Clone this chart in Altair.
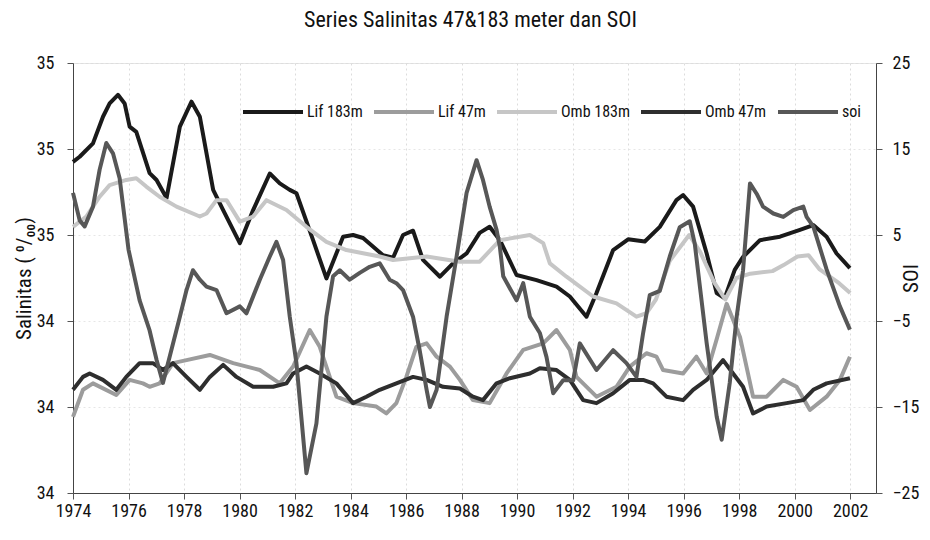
import altair as alt
import pandas as pd

FONT = "Liberation Sans Narrow, Arial Narrow, Roboto Condensed, Liberation Sans, sans-serif"

series_names = ["Lif 183m", "Lif 47m", "Omb 183m", "Omb 47m", "soi"]
series_colors = ["#1a1a1a", "#9c9c9c", "#c6c6c6", "#2e2e2e", "#575757"]

x_ticks = list(range(1974, 2003, 2))
sal_ticks = [34.0, 34.2, 34.4, 34.6, 34.8, 35.0]
soi_ticks = [-25, -15, -5, 5, 15, 25]

lif183_year = [1974.00, 1974.24, 1974.72, 1975.08, 1975.32, 1975.62, 1975.86, 1976.04, 1976.28, 1976.76,
               1977.01, 1977.37, 1977.85, 1978.27, 1978.57, 1979.05, 1979.41, 1980.01, 1980.49, 1981.09,
               1981.45, 1981.81, 1982.05, 1982.65, 1983.13, 1983.73, 1984.09, 1984.45, 1985.17, 1985.53,
               1985.89, 1986.25, 1986.61, 1987.22, 1987.69, 1988.18, 1988.65, 1989.01, 1989.38, 1989.98,
               1990.70, 1991.42, 1991.90, 1992.50, 1992.86, 1993.46, 1994.00, 1994.60, 1995.14, 1995.74,
               1995.98, 1996.34, 1996.83, 1997.19, 1997.48, 1997.84, 1998.14, 1998.75, 1999.47, 2000.19,
               2000.67, 2001.15, 2001.51, 2001.99]
lif183_val = [34.770, 34.782, 34.813, 34.875, 34.906, 34.926, 34.906, 34.852, 34.840, 34.744,
              34.728, 34.686, 34.852, 34.910, 34.875, 34.705, 34.658, 34.581, 34.658, 34.743,
              34.720, 34.705, 34.697, 34.588, 34.499, 34.596, 34.600, 34.593, 34.553, 34.547,
              34.600, 34.610, 34.542, 34.503, 34.534, 34.557, 34.605, 34.619, 34.588, 34.507,
              34.495, 34.480, 34.457, 34.410, 34.465, 34.565, 34.590, 34.585, 34.619, 34.681,
              34.693, 34.666, 34.557, 34.465, 34.453, 34.519, 34.549, 34.588, 34.596, 34.612,
              34.623, 34.596, 34.557, 34.523]

lif47_year = [1974.00, 1974.36, 1974.72, 1975.56, 1976.04, 1976.52, 1976.76, 1977.12, 1977.60, 1978.09,
              1978.93, 1979.77, 1980.73, 1981.45, 1981.93, 1982.53, 1982.89, 1983.25, 1983.49, 1984.09,
              1984.93, 1985.29, 1985.65, 1986.01, 1986.37, 1986.74, 1987.10, 1987.58, 1987.94, 1988.41,
              1989.01, 1989.62, 1990.22, 1990.94, 1991.42, 1991.90, 1992.14, 1992.86, 1993.58, 1994.06,
              1994.66, 1995.02, 1995.26, 1995.98, 1996.46, 1996.83, 1997.20, 1997.55, 1998.03, 1998.50,
              1998.99, 1999.59, 2000.07, 2000.55, 2001.15, 2001.63, 2001.99]
lif47_val = [34.177, 34.240, 34.255, 34.228, 34.263, 34.255, 34.247, 34.255, 34.302, 34.309,
             34.321, 34.302, 34.286, 34.255, 34.294, 34.379, 34.340, 34.270, 34.224, 34.209,
             34.201, 34.185, 34.209, 34.270, 34.340, 34.348, 34.317, 34.294, 34.263, 34.216,
             34.209, 34.278, 34.333, 34.348, 34.379, 34.333, 34.270, 34.224, 34.247, 34.294,
             34.325, 34.317, 34.286, 34.278, 34.317, 34.278, 34.360, 34.440, 34.363, 34.224,
             34.224, 34.263, 34.247, 34.193, 34.224, 34.263, 34.317]

omb183_year = [1974.00, 1974.48, 1974.96, 1975.32, 1975.92, 1976.28, 1976.65, 1977.12, 1977.73, 1978.57,
               1978.81, 1979.17, 1979.53, 1980.01, 1980.49, 1980.97, 1981.69, 1982.41, 1983.13, 1983.85,
               1985.05, 1985.53, 1986.74, 1987.94, 1988.65, 1989.38, 1990.46, 1990.94, 1991.18, 1991.78,
               1992.74, 1993.58, 1994.30, 1994.66, 1995.00, 1995.50, 1996.20, 1996.60, 1997.10, 1997.50,
               1997.90, 1998.40, 1999.20, 1999.60, 2000.10, 2000.50, 2000.90, 2001.60, 2002.00]
omb183_val = [34.619, 34.643, 34.689, 34.716, 34.728, 34.732, 34.712, 34.689, 34.666, 34.643,
              34.650, 34.681, 34.681, 34.631, 34.643, 34.681, 34.658, 34.619, 34.584, 34.565,
              34.550, 34.542, 34.550, 34.538, 34.538, 34.588, 34.600, 34.581, 34.534, 34.503,
              34.457, 34.441, 34.410, 34.418, 34.450, 34.540, 34.600, 34.560, 34.490, 34.450,
              34.500, 34.510, 34.516, 34.530, 34.550, 34.553, 34.520, 34.488, 34.465]

omb47_year = [1974.00, 1974.36, 1974.60, 1975.08, 1975.56, 1975.92, 1976.40, 1976.88, 1977.24, 1977.60,
              1978.09, 1978.57, 1978.93, 1979.41, 1979.89, 1980.49, 1981.21, 1981.69, 1981.93, 1982.41,
              1982.89, 1983.49, 1984.09, 1984.57, 1985.05, 1985.65, 1986.25, 1986.74, 1987.33, 1987.94,
              1988.41, 1988.77, 1989.26, 1989.74, 1990.46, 1990.82, 1991.42, 1991.90, 1992.38, 1992.86,
              1993.46, 1994.06, 1994.54, 1994.90, 1995.38, 1995.98, 1996.34, 1996.83, 1997.42, 1997.78,
              1998.14, 1998.50, 1998.99, 1999.71, 2000.31, 2000.67, 2001.15, 2001.99]
omb47_val = [34.240, 34.270, 34.278, 34.263, 34.240, 34.270, 34.302, 34.302, 34.286, 34.302,
             34.270, 34.240, 34.270, 34.298, 34.270, 34.247, 34.247, 34.255, 34.278, 34.294,
             34.278, 34.255, 34.209, 34.224, 34.240, 34.255, 34.270, 34.263, 34.247, 34.243,
             34.224, 34.216, 34.255, 34.267, 34.278, 34.290, 34.286, 34.263, 34.216, 34.209,
             34.232, 34.263, 34.263, 34.255, 34.224, 34.216, 34.240, 34.263, 34.309, 34.278,
             34.247, 34.185, 34.201, 34.209, 34.216, 34.240, 34.255, 34.267]

soi_year = [1974.00, 1974.24, 1974.42, 1974.72, 1974.96, 1975.20, 1975.44, 1975.68, 1976.00, 1976.40,
            1976.76, 1977.01, 1977.24, 1977.48, 1977.85, 1978.09, 1978.32, 1978.57, 1978.81, 1979.17,
            1979.53, 1980.01, 1980.25, 1980.73, 1981.09, 1981.33, 1981.57, 1981.81, 1982.05, 1982.41,
            1982.77, 1983.13, 1983.37, 1983.61, 1983.97, 1984.33, 1984.69, 1985.05, 1985.41, 1985.65,
            1985.89, 1986.25, 1986.49, 1986.74, 1986.86, 1987.10, 1987.46, 1987.82, 1988.18, 1988.54,
            1988.77, 1989.01, 1989.26, 1989.38, 1989.50, 1989.98, 1990.22, 1990.46, 1990.82, 1991.06,
            1991.30, 1991.66, 1992.02, 1992.26, 1992.86, 1993.46, 1993.94, 1994.30, 1994.54, 1994.78,
            1995.14, 1995.50, 1995.86, 1996.22, 1996.40, 1996.83, 1997.19, 1997.37, 1997.66, 1997.91,
            1998.14, 1998.39, 1998.63, 1998.86, 1999.23, 1999.59, 1999.95, 2000.31, 2000.43, 2000.67,
            2001.15, 2001.63, 2001.99]
soi_val = [9.9, 6.7, 6.0, 8.3, 12.6, 15.7, 14.5, 11.6, 3.3, -2.6,
           -6.1, -9.5, -12.2, -9.2, -4.5, -1.4, 0.9, -0.2, -1.0, -1.4,
           -4.1, -3.3, -4.1, -0.2, 2.5, 4.2, 2.1, -4.5, -9.9, -22.7,
           -16.9, -4.5, 0.2, 0.9, -0.2, 0.6, 1.3, 1.7, -0.2, -0.6,
           -1.4, -4.5, -8.4, -13.0, -15.0, -13.0, -4.5, 2.5, 9.9, 13.7,
           11.4, 8.3, 5.6, 3.6, 0.2, -2.6, -0.6, -4.5, -6.4, -9.2,
           -13.4, -11.9, -11.9, -7.6, -10.7, -8.4, -9.9, -11.5, -6.4, -2.0,
           -1.5, 2.5, 5.9, 6.6, 4.0, -7.6, -16.1, -18.8, -12.2, -4.5,
           0.9, 11.0, 9.8, 8.3, 7.5, 7.1, 7.9, 8.3, 7.1, 6.0,
           1.0, -3.3, -6.0]

rows = []
for name, yrs, vals in [("Lif 183m", lif183_year, lif183_val),
                        ("Lif 47m", lif47_year, lif47_val),
                        ("Omb 183m", omb183_year, omb183_val),
                        ("Omb 47m", omb47_year, omb47_val),
                        ("soi", soi_year, soi_val)]:
    for yr, v in zip(yrs, vals):
        rows.append({"series": name, "year": yr, "value": v})
df = pd.DataFrame(rows)

x_enc = alt.X("year:Q",
              scale=alt.Scale(domain=[1974, 2002.93], nice=False, zero=False),
              axis=alt.Axis(values=x_ticks, format="d", title=None, grid=True,
                            gridColor="#dcdcdc", gridDash=[2, 3], gridWidth=1,
                            labelFontSize=18, labelFont=FONT, labelColor="#111",
                            tickSize=6, tickColor="#555", domainColor="#444",
                            labelPadding=3, labelFlush=False))

color_enc = alt.Color("series:N",
                      scale=alt.Scale(domain=series_names, range=series_colors),
                      legend=alt.Legend(title=None, orient="none", legendX=168, legendY=17,
                                        direction="horizontal", symbolType="stroke",
                                        symbolSize=3600, symbolStrokeWidth=4,
                                        labelFont=FONT, labelFontSize=16, labelColor="#111",
                                        labelOffset=2, columnPadding=3))

sal = alt.Chart(df).transform_filter(alt.datum.series != "soi").mark_line(
    strokeWidth=4, strokeJoin="round").encode(
    x=x_enc,
    y=alt.Y("value:Q",
            scale=alt.Scale(domain=[34, 35], nice=False, zero=False),
            axis=alt.Axis(values=sal_ticks, format=".0f", title="Salinitas ( \u2070/\u2080\u2080)",
                          orient="left", grid=True, gridColor="#e6e6e6", gridDash=[2, 3],
                          labelFontSize=18, labelFont=FONT, labelColor="#111",
                          titleFont=FONT, titleFontSize=21, titleFontWeight="normal",
                          titleColor="#111", titlePadding=2, tickSize=6, tickColor="#555",
                          domainColor="#444", labelPadding=13)),
    color=color_enc,
)

soi = alt.Chart(df).transform_filter(alt.datum.series == "soi").mark_line(
    strokeWidth=4, strokeJoin="round").encode(
    x=x_enc,
    y=alt.Y("value:Q",
            scale=alt.Scale(domain=[-25, 25], nice=False, zero=False),
            axis=alt.Axis(values=soi_ticks, format="d", title="SOI", orient="right", grid=False,
                          labelFontSize=18, labelFont=FONT, labelColor="#111",
                          titleFont=FONT, titleFontSize=21, titleFontWeight="normal",
                          titleColor="#111", titleAngle=270, titlePadding=3,
                          tickSize=6, tickColor="#555", domainColor="#444", labelPadding=10)),
    color=color_enc,
)

chart = alt.layer(sal, soi).resolve_scale(y="independent").properties(
    width=803, height=430,
    padding={"left": 65, "top": 55, "right": 46, "bottom": 38},
    autosize=alt.AutoSizeParams(type="none"),
    title=alt.TitleParams(text="Series Salinitas 47&183 meter dan SOI", font=FONT, fontSize=22,
                          fontWeight="normal", color="#111", anchor="middle", frame="group",
                          offset=22, dx=-4),
).configure_view(stroke="#888", strokeWidth=1).configure(background="white")

chart.save("out.html", embed_options={"renderer": "svg", "actions": False})
